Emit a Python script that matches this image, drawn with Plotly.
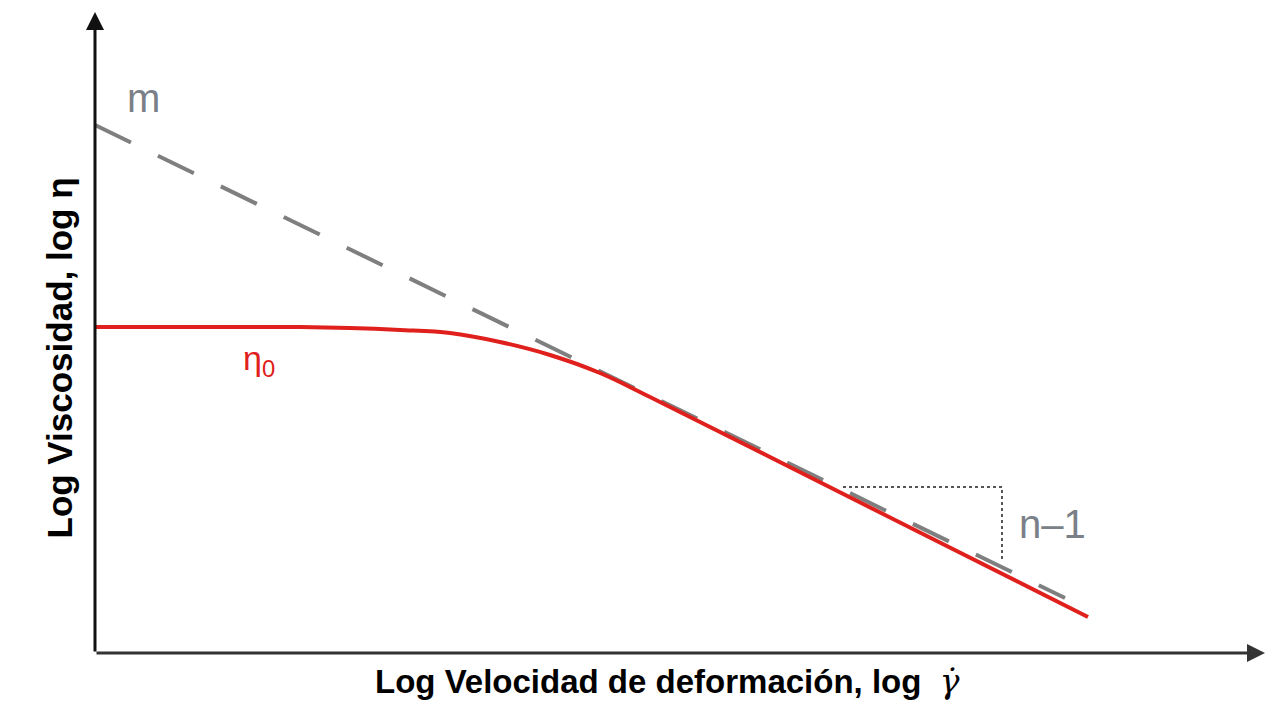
import plotly.graph_objects as go

# Log shear rate (x) and log viscosity (y), in arbitrary log units
red_x = [0, 1.05, 2.05, 2.55, 3.05, 3.55, 4.05, 4.55, 5.05, 5.55, 8.0, 9.93]
red_y = [3.26, 3.26, 3.26, 3.25, 3.23, 3.20, 3.11, 2.98, 2.80, 2.56, 1.33, 0.36]

power_x = [0, 9.7]
power_y = [5.28, 0.55]

tri_x = [7.48, 9.07, 9.07]
tri_y = [1.66, 1.66, 0.91]

x_axis_end = 11.7
y_axis_end = 6.41

fig = go.Figure()

fig.add_trace(go.Scatter(x=power_x, y=power_y, mode="lines",
                         line=dict(color="#7f7f7f", width=4, dash="40px,30px"),
                         hoverinfo="skip"))
fig.add_trace(go.Scatter(x=red_x, y=red_y, mode="lines",
                         line=dict(color="#e0201c", width=4, shape="spline", smoothing=1.0),
                         hoverinfo="skip"))
fig.add_trace(go.Scatter(x=tri_x, y=tri_y, mode="lines",
                         line=dict(color="#555555", width=2, dash="dot"),
                         hoverinfo="skip"))

# axes with arrows
fig.add_annotation(x=x_axis_end, y=0, ax=0, ay=0, xref="x", yref="y", axref="x", ayref="y",
                   showarrow=True, arrowhead=2, arrowsize=1.2, arrowwidth=3, arrowcolor="#333333", text="")
fig.add_annotation(x=0, y=y_axis_end, ax=0, ay=0, xref="x", yref="y", axref="x", ayref="y",
                   showarrow=True, arrowhead=2, arrowsize=1.2, arrowwidth=3, arrowcolor="#111111", text="")

fig.add_annotation(x=0.48, y=5.55, text="m", showarrow=False,
                   font=dict(family="Liberation Sans", size=40, color="#7a7f88"))
fig.add_annotation(x=1.64, y=2.93, text="η<sub>0</sub>", showarrow=False,
                   font=dict(family="Liberation Sans", size=34, color="#e0201c"))
fig.add_annotation(x=9.57, y=1.29, text="n–1", showarrow=False,
                   font=dict(family="Liberation Sans", size=40, color="#7a7f88"))

fig.add_annotation(x=667/1273, y=1 - 703/724, xref="paper", yref="paper",
                   text="<b>Log Velocidad de deformación, log  </b><span style=\"font-family:'DejaVu Serif'\"><i>γ̇</i></span>",
                   showarrow=False,
                   font=dict(family="Liberation Sans", size=33, color="black"))
fig.add_annotation(x=37/1273, y=1 - 358/724, xref="paper", yref="paper", textangle=-90,
                   text="<b>Log Viscosidad, log η</b>", showarrow=False,
                   font=dict(family="Liberation Sans", size=35, color="black"))

fig.update_layout(
    width=1273, height=724,
    margin=dict(l=0, r=0, t=0, b=0),
    plot_bgcolor="white", paper_bgcolor="white",
    showlegend=False,
    xaxis=dict(range=[-0.95, 11.78], visible=False, fixedrange=True),
    yaxis=dict(range=[-0.71, 6.53], visible=False, fixedrange=True),
)

fig.write_html("out.html")
